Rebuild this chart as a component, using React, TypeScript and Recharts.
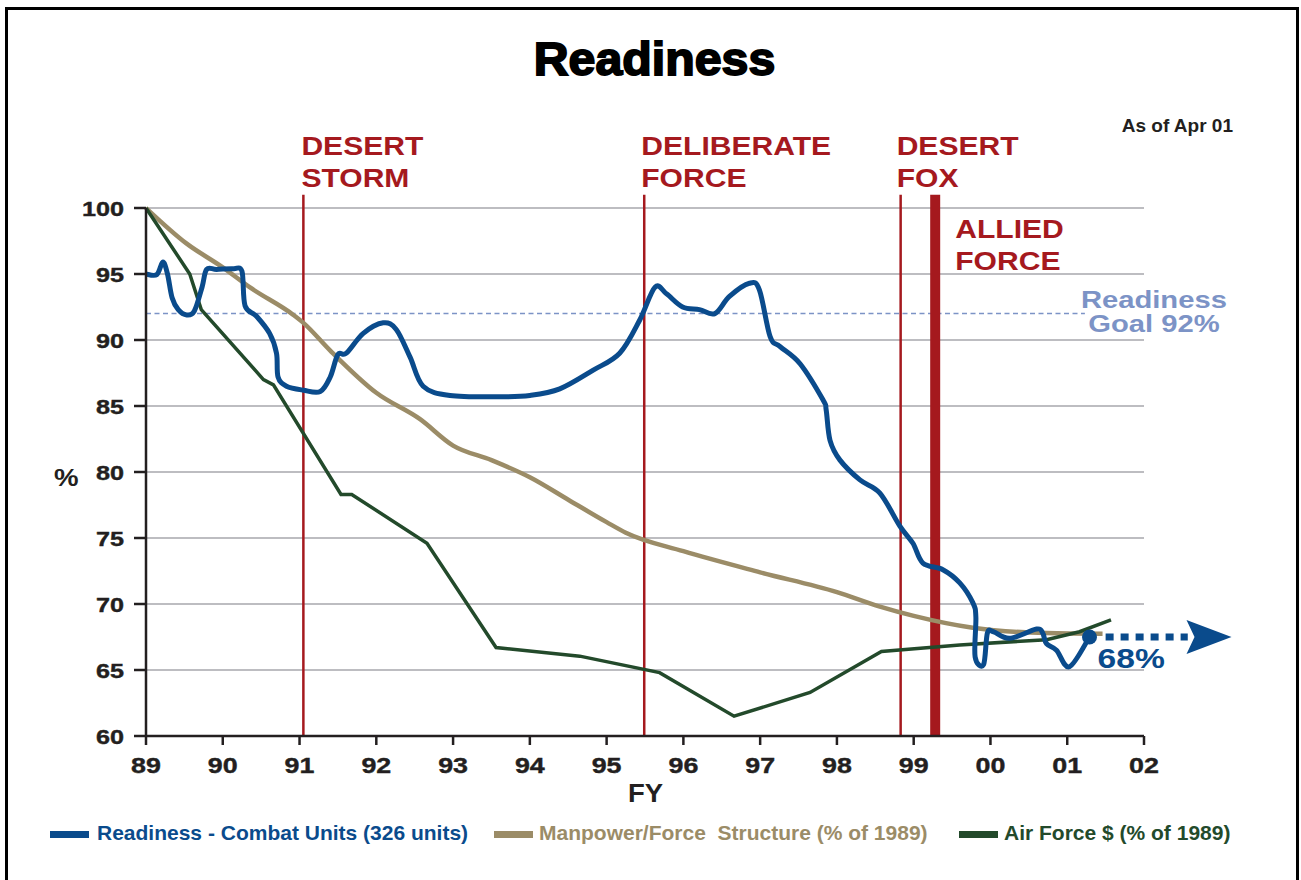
import { LineChart, Line, XAxis, YAxis, CartesianGrid, ReferenceLine, ReferenceDot } from 'recharts'

// fiscal years, 00 = 100
const xTicks = [89, 90, 91, 92, 93, 94, 95, 96, 97, 98, 99, 100, 101, 102]
const yTicks = [60, 65, 70, 75, 80, 85, 90, 95, 100]

const readinessX = [89.0, 89.14, 89.22, 89.28, 89.34, 89.42, 89.53, 89.63, 89.73, 89.79, 89.92, 90.14, 90.25, 90.29, 90.44, 90.61, 90.7, 90.72, 90.83, 91.05, 91.27, 91.4, 91.5, 91.61, 91.83, 92.09, 92.26, 92.44, 92.61, 92.96, 93.6, 94.0, 94.39, 94.82, 95.17, 95.43, 95.63, 95.78, 95.99, 96.21, 96.41, 96.6, 96.86, 96.99, 97.13, 97.26, 97.52, 97.82, 97.86, 97.91, 98.04, 98.3, 98.56, 98.82, 98.99, 99.12, 99.38, 99.6, 99.77, 99.81, 99.8, 99.91, 99.96, 100.04, 100.25, 100.6, 100.68, 100.73, 100.86, 101.03, 101.29]
const readinessY = [95.0, 94.95, 95.9, 95.0, 93.2, 92.3, 91.9, 92.2, 94.0, 95.35, 95.35, 95.4, 95.2, 92.6, 91.8, 90.5, 89.0, 87.2, 86.5, 86.2, 86.1, 87.2, 88.9, 89.0, 90.5, 91.3, 90.8, 88.7, 86.5, 85.8, 85.7, 85.8, 86.3, 87.7, 89.0, 91.5, 94.0, 93.5, 92.5, 92.3, 92.0, 93.3, 94.3, 93.8, 90.25, 89.5, 88.2, 85.45, 84.7, 82.4, 80.9, 79.4, 78.4, 75.9, 74.6, 73.1, 72.6, 71.6, 70.1, 69.0, 66.0, 65.4, 67.8, 67.9, 67.4, 68.1, 67.8, 67.0, 66.5, 65.25, 67.5]

const manpowerX = [89, 89.53, 90, 90.35, 90.92, 91.05, 91.4, 92, 92.57, 93, 93.5, 94, 94.5, 95, 95.25, 96, 97, 98, 98.56, 99, 99.77, 100.73, 101.46]
const manpowerY = [100, 97.3, 95.5, 94.0, 91.9, 91.3, 89.2, 86.0, 84.0, 82.0, 80.9, 79.6, 77.9, 76.2, 75.4, 74.0, 72.4, 70.9, 69.8, 69.1, 68.2, 67.8, 67.75]

const airForceX = [89, 89.57, 89.72, 90.53, 90.66, 91.54, 91.68, 92.66, 93.56, 94.65, 95.69, 96.66, 97.65, 98.58, 99.6, 100.73, 101.16, 101.57]
const airForceY = [100, 95.0, 92.3, 87.0, 86.6, 78.3, 78.3, 74.6, 66.7, 66.05, 64.8, 61.5, 63.3, 66.4, 66.9, 67.3, 67.9, 68.8]

const eventNames = [['DESERT', 'STORM'], ['DELIBERATE', 'FORCE'], ['DESERT', 'FOX'], ['ALLIED', 'FORCE']]
const eventYears = [91.05, 95.49, 98.83, 99.28]
const goal = 92
const goalEnd = 101.23
const latest = 67.5
const arrowFrom = 101.5
const arrowTo = 102.57
const arrowTip = 103.14

const legendLabels = ['Readiness - Combat Units (326 units)', 'Manpower/Force  Structure (% of 1989)', 'Air Force $ (% of 1989)']

const BLUE = '#0a4b8c'
const TAN = '#9b8c67'
const GREEN = '#234a2b'
const RED = '#a5191e'
const GOAL = '#7c93c6'
const INK = '#231f20'
const FONT = '"Liberation Sans", Arial, Helvetica, sans-serif'

const eventWidths = [2.5, 2.5, 2.5, 10]
const eventOffsets = [
  { dx: -2, dy: -40 },
  { dx: -3, dy: -40 },
  { dx: -4, dy: -40 },
  { dx: 20, dy: 43 },
]
const legendColors = [BLUE, TAN, GREEN]
const legendSwatchLeft = [50, 494, 959]
const legendTextLeft = [97, 539, 1004]

const toPoints = (xs: number[], ys: number[]) => xs.map((x, i) => ({ x, y: ys[i] }))

// smooth curve that passes through every point, works when x doubles back
const catmullRom = (context: any) => {
  let pts: number[][] = []
  return {
    areaStart() {},
    areaEnd() {},
    lineStart() {
      pts = []
    },
    lineEnd() {
      if (!pts.length) return
      context.moveTo(pts[0][0], pts[0][1])
      for (let i = 0; i < pts.length - 1; i++) {
        const p0 = pts[Math.max(i - 1, 0)]
        const p1 = pts[i]
        const p2 = pts[i + 1]
        const p3 = pts[Math.min(i + 2, pts.length - 1)]
        context.bezierCurveTo(
          p1[0] + (p2[0] - p0[0]) / 6,
          p1[1] + (p2[1] - p0[1]) / 6,
          p2[0] - (p3[0] - p1[0]) / 6,
          p2[1] - (p3[1] - p1[1]) / 6,
          p2[0],
          p2[1]
        )
      }
    },
    point(x: number, y: number) {
      pts.push([x, y])
    },
  }
}

function XTick({ x, y, payload }: any) {
  return (
    <g transform={`translate(${x},${y}) scale(1.22,1)`}>
      <text textAnchor="middle" dy={26} fill={INK} stroke={INK} strokeWidth={0.4} fontSize={22} fontWeight={700} fontFamily={FONT}>
        {String(payload.value % 100).padStart(2, '0')}
      </text>
    </g>
  )
}

function YTick({ x, y, payload }: any) {
  return (
    <g transform={`translate(${x},${y}) scale(1.2,1)`}>
      <text textAnchor="end" dy={7.5} fill={INK} stroke={INK} strokeWidth={0.4} fontSize={21} fontWeight={700} fontFamily={FONT}>
        {payload.value}
      </text>
    </g>
  )
}

const eventLabel = (lines: string[], dx: number, dy: number) => (props: any) => {
  const { x, y } = props.viewBox
  return (
    <g transform={`translate(${x + dx},${y + dy}) scale(1.18,1)`}>
      <text fill={RED} fontSize={25.5} fontWeight={700} fontFamily={FONT}>
        {lines.map((l, i) => (
          <tspan key={i} x={0} dy={i === 0 ? 0 : 32}>
            {l}
          </tspan>
        ))}
      </text>
    </g>
  )
}

const goalLabel = (props: any) => {
  const { x, y, width } = props.viewBox
  return (
    <g transform={`translate(${x + width + 69},${y}) scale(1.27,1)`}>
      <text textAnchor="middle" fill={GOAL} fontSize={23} fontWeight={700} fontFamily={FONT}>
        <tspan x={0} dy={-5.7}>Readiness</tspan>
        <tspan x={0} dy={24.5}>Goal 92%</tspan>
      </text>
    </g>
  )
}

const latestLabel = (props: any) => {
  const { x, y } = props.viewBox
  return (
    <g transform={`translate(${x - 8},${y + 30.7}) scale(1.2,1)`}>
      <text fill={BLUE} fontSize={28} fontWeight={700} fontFamily={FONT}>
        68%
      </text>
    </g>
  )
}

const arrowHead = ({ cx, cy }: any) => (
  <polygon points={`${cx},${cy} ${cx - 45},${cy - 17} ${cx - 37},${cy} ${cx - 45},${cy + 17}`} fill={BLUE} />
)

const lastIndex = readinessX.length - 1
const endDot = (p: any) =>
  p.index === lastIndex ? (
    <circle key={`d${p.index}`} cx={p.cx} cy={p.cy} r={7.5} fill={BLUE} />
  ) : (
    <g key={`d${p.index}`} />
  )

export default function App() {
  return (
    <div style={{ position: 'absolute', left: 0, top: 0, width: 1301, height: 880, overflow: 'hidden', background: '#fff', fontFamily: FONT }}>
      <div style={{ position: 'absolute', left: 5, top: 7, width: 1294, height: 940, border: '3px solid #000', boxSizing: 'border-box' }} />

      <div style={{ position: 'absolute', left: 0, top: 36, width: 1309, textAlign: 'center', fontSize: 46, fontWeight: 700, lineHeight: 1, color: '#000', transform: 'scaleX(1.05)', WebkitTextStroke: '1.8px #000' }}>
        Readiness
      </div>
      <div style={{ position: 'absolute', right: 68, top: 115.6, fontSize: 19, fontWeight: 700, lineHeight: 1, color: INK }}>As of Apr 01</div>
      <div style={{ position: 'absolute', left: 54, top: 466, fontSize: 24, fontWeight: 700, lineHeight: 1, color: INK, transform: 'scaleX(1.15)', transformOrigin: 'left' }}>%</div>
      <div style={{ position: 'absolute', left: 628, top: 780.5, fontSize: 25, fontWeight: 700, lineHeight: 1, color: INK, transform: 'scaleX(1.1)', transformOrigin: 'left' }}>FY</div>

      <div style={{ position: 'absolute', left: 0, top: 0 }}>
        <LineChart width={1301} height={880} margin={{ top: 208, right: 157, bottom: 94, left: 86 }}>
          <CartesianGrid vertical={false} stroke="#bdbdc1" strokeWidth={2} />
          <XAxis
            type="number"
            dataKey="x"
            domain={[89, 102]}
            ticks={xTicks}
            interval={0}
            height={50}
            tickSize={9}
            tick={<XTick />}
            stroke={INK}
            strokeWidth={2.5}
            allowDuplicatedCategory={false}
          />
          <YAxis
            type="number"
            dataKey="y"
            domain={[60, 100]}
            ticks={yTicks}
            interval={0}
            width={60}
            tickSize={12}
            tickMargin={10}
            tick={<YTick />}
            stroke={INK}
            strokeWidth={2.5}
          />
          <ReferenceLine
            segment={[{ x: 89, y: goal }, { x: goalEnd, y: goal }]}
            stroke={GOAL}
            strokeWidth={1.5}
            strokeDasharray="5 3.5"
            ifOverflow="visible"
            label={goalLabel}
          />
          {eventYears.map((yr, i) => (
            <ReferenceLine
              key={i}
              segment={[{ x: yr, y: 60 }, { x: yr, y: 101 }]}
              stroke={RED}
              strokeWidth={eventWidths[i]}
              ifOverflow="visible"
              label={eventLabel(eventNames[i], eventOffsets[i].dx, eventOffsets[i].dy)}
            />
          ))}
          <Line
            data={toPoints(manpowerX, manpowerY)}
            dataKey="y"
            type="monotone"
            stroke={TAN}
            strokeWidth={4.5}
            dot={false}
            isAnimationActive={false}
          />
          <Line
            data={toPoints(airForceX, airForceY)}
            dataKey="y"
            type="linear"
            stroke={GREEN}
            strokeWidth={3.5}
            dot={false}
            isAnimationActive={false}
          />
          <Line
            data={toPoints(readinessX, readinessY)}
            dataKey="y"
            type={catmullRom as any}
            stroke={BLUE}
            strokeWidth={5}
            strokeLinejoin="round"
            dot={endDot}
            isAnimationActive={false}
          />
          <ReferenceLine
            segment={[{ x: arrowFrom, y: latest }, { x: arrowTo, y: latest }]}
            stroke={BLUE}
            strokeWidth={7}
            strokeDasharray="8 7"
            ifOverflow="visible"
            label={latestLabel}
          />
          <ReferenceDot x={arrowTip} y={latest} ifOverflow="visible" shape={arrowHead} />
        </LineChart>
      </div>

      {legendLabels.map((label, i) => (
        <div key={i}>
          <div style={{ position: 'absolute', left: legendSwatchLeft[i], top: 830.5, width: 39, height: 7, background: legendColors[i] }} />
          <div style={{ position: 'absolute', left: legendTextLeft[i], top: 821.5, fontSize: 21, fontWeight: 700, lineHeight: 1, color: legendColors[i], whiteSpace: 'pre' }}>
            {label}
          </div>
        </div>
      ))}
    </div>
  )
}
